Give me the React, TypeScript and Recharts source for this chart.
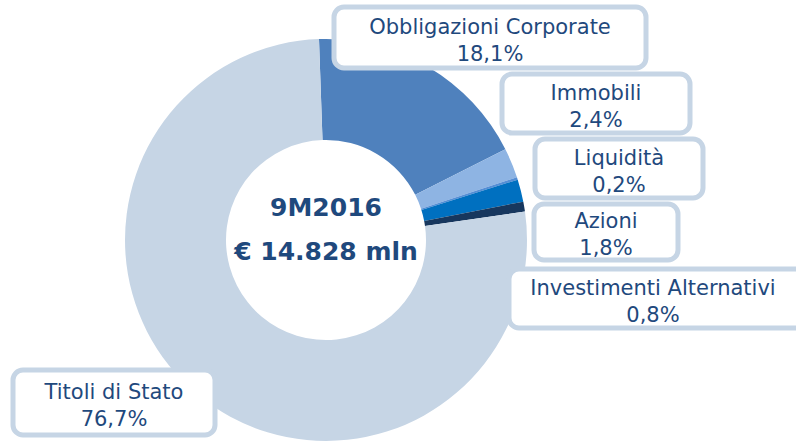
import { PieChart, Pie, Cell } from 'recharts';

const categories = [
  'Obbligazioni Corporate',
  'Immobili',
  'Liquidità',
  'Azioni',
  'Investimenti Alternativi',
  'Titoli di Stato',
];
const shares = [18.1, 2.4, 0.2, 1.8, 0.8, 76.7];
const colors = ['#4F81BD', '#8EB4E3', '#558ED5', '#0070C0', '#17375E', '#C6D5E5'];

const centerTitle = '9M2016';
const centerValue = '€ 14.828 mln';

const data = categories.map((name, i) => ({ name, value: shares[i] }));

// label boxes: x, y, w, h, text center x
const boxes = [
  { x: 334, y: 7, w: 312, h: 61, tx: 490 },
  { x: 502, y: 74, w: 188, h: 59, tx: 596 },
  { x: 535, y: 139, w: 168, h: 59, tx: 619 },
  { x: 534, y: 204, w: 144, h: 56, tx: 606 },
  { x: 509, y: 269, w: 300, h: 59, tx: 653 },
  { x: 13, y: 370, w: 202, h: 65, tx: 114 },
];

const fmt = (v: number) => v.toFixed(1).replace('.', ',') + '%';

const renderLabel = (props: any) => {
  const b = boxes[props.index];
  const d = data[props.index];
  return (
    <g>
      <rect x={b.x} y={b.y} width={b.w} height={b.h} rx={10} fill='#fff' stroke='#C6D5E5' strokeWidth={5} />
      <text x={b.tx} y={b.y + b.h / 2 - 4} textAnchor='middle' fill='#1F497D' fontSize={21}>
        {d.name}
      </text>
      <text x={b.tx} y={b.y + b.h / 2 + 23} textAnchor='middle' fill='#1F497D' fontSize={21}>
        {fmt(d.value)}
      </text>
    </g>
  );
};

export default function App() {
  return (
    <div style={{ position: 'absolute', left: 0, top: 0, fontFamily: 'DejaVu Sans' }}>
      <PieChart width={796} height={442} margin={{ top: 0, right: 0, bottom: 0, left: 0 }}>
        <Pie
          data={data}
          dataKey='value'
          cx={326}
          cy={240}
          innerRadius={100}
          outerRadius={201}
          startAngle={92}
          endAngle={-268}
          stroke='none'
          labelLine={false}
          label={renderLabel}
          isAnimationActive={false}
        >
          {data.map((d, i) => (
            <Cell key={d.name} fill={colors[i]} />
          ))}
        </Pie>
        <text x={326} y={216} textAnchor='middle' fill='#1F497D' fontSize={25} fontWeight='bold'>
          {centerTitle}
        </text>
        <text x={326} y={260} textAnchor='middle' fill='#1F497D' fontSize={25} fontWeight='bold'>
          {centerValue}
        </text>
      </PieChart>
    </div>
  );
}
